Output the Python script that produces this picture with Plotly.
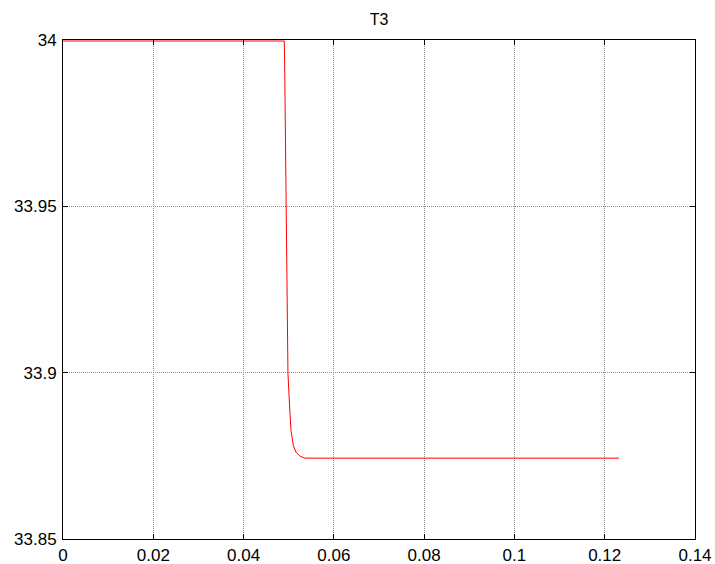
import plotly.graph_objects as go

# Data (time, T3)
time = [0.0, 0.04901, 0.04910, 0.04932, 0.04939, 0.04968, 0.04983, 0.05012,
        0.05050, 0.05101, 0.05161, 0.05249, 0.05360, 0.12314]
t3 = [33.9997, 33.9997, 33.9931, 33.9609, 33.9501, 33.9218, 33.8999, 33.8918,
      33.8827, 33.8782, 33.8761, 33.8749, 33.8743, 33.8743]

x_ticks = [0, 0.02, 0.04, 0.06, 0.08, 0.1, 0.12, 0.14]
x_tick_text = ["0", "0.02", "0.04", "0.06", "0.08", "0.1", "0.12", "0.14"]
y_ticks = [33.85, 33.9, 33.95, 34.0]
y_tick_text = ["33.85", "33.9", "33.95", "34"]

font_family = "Liberation Sans, Arial, sans-serif"

fig = go.Figure()
fig.add_trace(go.Scatter(x=time, y=t3, mode="lines",
                         line=dict(color="#ff0000", width=1),
                         showlegend=False, hoverinfo="skip"))

axis_common = dict(
    showline=True, linecolor="black", linewidth=1, mirror="allticks",
    ticks="inside", ticklen=5, tickcolor="black", tickwidth=1,
    showgrid=True, gridcolor="#8c8c8c", gridwidth=1, griddash="1px,1px",
    zeroline=False, automargin=False,
    tickfont=dict(family=font_family, size=17, color="black"),
)

fig.update_xaxes(range=[0, 0.14], tickvals=x_ticks, ticktext=x_tick_text,
                 ticklabelstandoff=1, **axis_common)
fig.update_yaxes(range=[33.85, 34.0], tickvals=y_ticks, ticktext=y_tick_text,
                 ticklabelstandoff=2, **axis_common)

fig.update_layout(
    width=715, height=564,
    margin=dict(l=63, r=20, t=40, b=25, autoexpand=False),
    paper_bgcolor="white", plot_bgcolor="white",
    title=dict(text="T3", x=379/715, xref="container", xanchor="center",
               y=1 - 19/564, yref="container", yanchor="middle",
               font=dict(family=font_family, size=16, color="black")),
)

fig.write_html("out.html",
               config={"displayModeBar": False, "staticPlot": True},
               post_script="document.body.style.margin='0';document.body.style.overflow='hidden';")
